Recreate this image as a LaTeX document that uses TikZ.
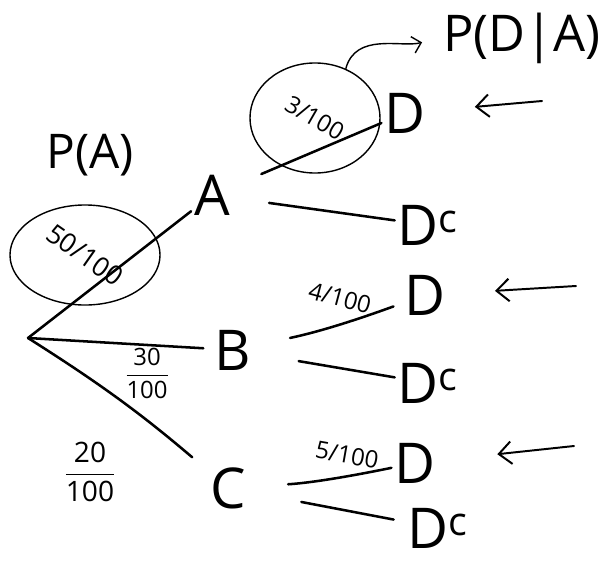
\documentclass[tikz,border=0pt]{standalone}
\usepackage{amsmath}
\usepackage{fontspec}
\setmainfont{Open Sans}
\usetikzlibrary{shapes.geometric}
\usetikzlibrary{arrows.meta}

\begin{document}
\begin{tikzpicture}[x=0.025cm,y=-0.025cm]

  \tikzset{vertex/.style = {font=\fontsize{40}{40}\selectfont,inner sep=2pt}}
  \tikzset{edge/.style = {line width=1.8pt,line cap=round}}
  \tikzset{prob/.style = {font=\fontsize{17}{17}\selectfont,inner sep=1pt}}
  \tikzset{ring/.style = {draw,ellipse,line width=1pt}}
  \tikzset{pointer/.style = {line width=1.4pt,line cap=round,-{Straight Barb[length=9pt,width=16pt]}}}
  \useasboundingbox (0,0) rectangle (602,564);
  % vertices
  \coordinate (o) at (28,338);
  \node[vertex] (a)   at (212,195) {A};
  \node[vertex] (b)   at (233,350) {B};
  \node[vertex] (c)   at (228,488) {C};
  \node[vertex] (d1)  at (405,113) {D};
  \node[vertex] (dc1) at (428,225) {D\textsuperscript{c}};
  \node[vertex] (d2)  at (425,295) {D};
  \node[vertex] (dc2) at (428,383) {D\textsuperscript{c}};
  \node[vertex] (d3)  at (415,463) {D};
  \node[vertex] (dc3) at (438,528) {D\textsuperscript{c}};
  % labels
  \node[font=\fontsize{34}{34}\selectfont] (pa)  at (90,155)  {P(A)};
  \node[font=\fontsize{36}{36}\selectfont] (pda) at (522,38)  {P(D|A)};
  \node[ring,prob,font=\fontsize{19}{19}\selectfont,minimum width=3.75cm,minimum height=2.5cm] (e1) at (85,255) {\rotatebox{-35}{50/100}};
  \node[ring,prob,minimum width=3.25cm,minimum height=2.75cm] (e2) at (315,118) {\rotatebox{-30}{3/100}};
  \node[prob,rotate=-15] (p4) at (340,298) {4/100};
  \node[prob,rotate=-10] (p5) at (347,455) {5/100};
  \node[prob] (p30) at (147,373) {$\dfrac{\text{30}}{\text{100}}$};
  \node[prob,font=\fontsize{20}{20}\selectfont] (p20) at (90,472) {$\dfrac{\text{\,20\,}}{\text{100}}$};
  \coordinate (t1) at (542,101);
  \coordinate (t2) at (576,286);
  \coordinate (t3) at (574,446);
  %edges
  \draw[edge] (o) -- (a);
  \draw[edge,shorten >=6pt] (o) -- (b);
  \draw[edge,shorten >=14pt] (o) to[bend left=4] (c);
  \draw[edge,shorten <=22pt] (a) -- (d1);
  \draw[edge,shorten <=26pt] (a) -- (dc1);
  \draw[edge,shorten <=26pt,shorten >=6pt] (b) to[bend right=4] (d2);
  \draw[edge,shorten <=32pt] (b) -- (dc2);
  \draw[edge,shorten <=28pt] (c) to[bend right=4] (d3);
  \draw[edge,shorten <=38pt,shorten >=8pt] (c) -- (dc3);
  \draw[pointer,shorten >=33pt] (t1) -- (d1);
  \draw[pointer,shorten >=33pt] (t2) -- (d2);
  \draw[pointer,shorten >=42pt] (t3) -- (d3);
  \draw[line width=1pt,shorten >=12pt,-{Straight Barb[length=6pt,width=12pt]}] (e2.58) to[out=75,in=195] (pda.west);
\end{tikzpicture}
\end{document}
